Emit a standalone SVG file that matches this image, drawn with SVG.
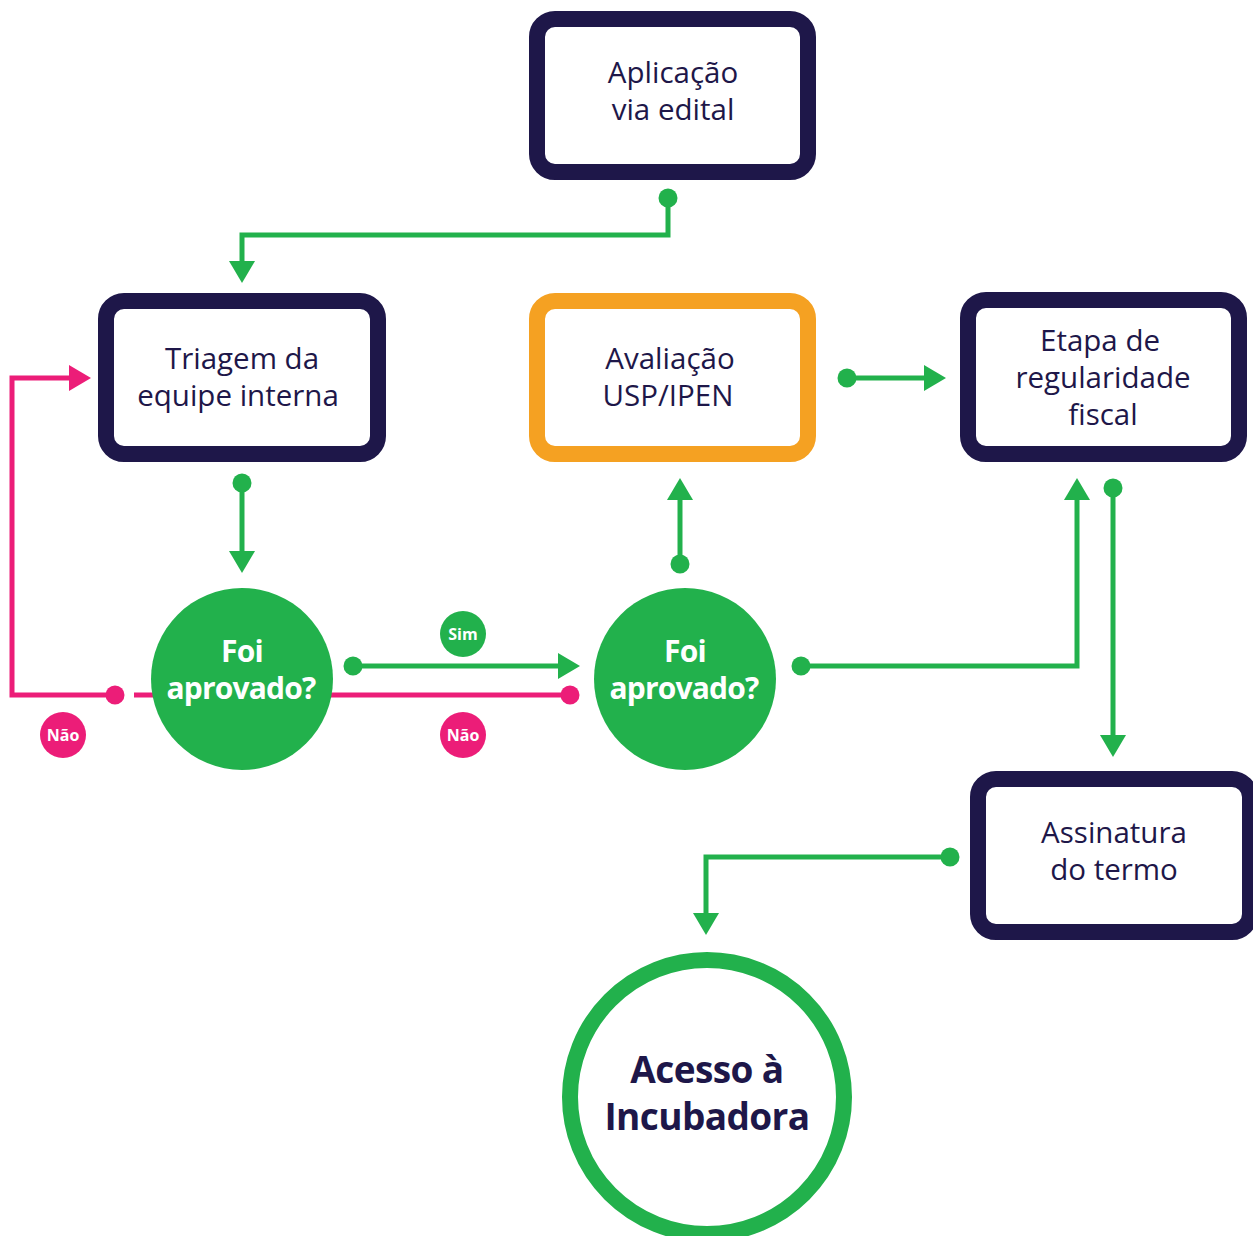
<svg xmlns="http://www.w3.org/2000/svg" width="1253" height="1236" viewBox="0 0 1253 1236">
<style>
.box{fill:#fff;stroke:#1e1749;stroke-width:16}
.orange{stroke:#f5a122}
.lbl{font-family:"Open Sans","Noto Sans",sans-serif;font-size:29.5px;fill:#1e1749;text-anchor:middle}
.q{font-family:"Open Sans","Noto Sans",sans-serif;font-weight:bold;font-size:30px;fill:#fff;text-anchor:middle;letter-spacing:-0.8px}
.big{font-family:"Open Sans","Noto Sans",sans-serif;font-weight:bold;font-size:37px;fill:#1e1749;text-anchor:middle;letter-spacing:-0.6px}
.badge{font-family:"Open Sans","Noto Sans",sans-serif;font-weight:bold;font-size:16px;fill:#fff;text-anchor:middle}
.g{fill:none;stroke:#22b14c;stroke-width:5}
.p{fill:none;stroke:#ec1d78;stroke-width:5}
</style>
<defs>
<marker id="ag" markerUnits="userSpaceOnUse" markerWidth="24" markerHeight="28" refX="0" refY="13" orient="auto" overflow="visible"><path d="M0,0 L22,13 L0,26 z" fill="#22b14c"/></marker>
<marker id="ap" markerUnits="userSpaceOnUse" markerWidth="24" markerHeight="28" refX="0" refY="13" orient="auto" overflow="visible"><path d="M0,0 L22,13 L0,26 z" fill="#ec1d78"/></marker>
<marker id="dg" markerUnits="userSpaceOnUse" markerWidth="20" markerHeight="20" refX="10" refY="10" overflow="visible"><circle cx="10" cy="10" r="9.5" fill="#22b14c"/></marker>
<marker id="dp" markerUnits="userSpaceOnUse" markerWidth="20" markerHeight="20" refX="10" refY="10" overflow="visible"><circle cx="10" cy="10" r="9.5" fill="#ec1d78"/></marker>
</defs>
<g id="connectors">
<path class="p" d="M134,695 H570" marker-end="url(#dp)"/>
<path class="p" d="M115,695 H12 V378 H69" marker-start="url(#dp)" marker-end="url(#ap)"/>
<path class="g" d="M668,198 V235 H242 V261" marker-start="url(#dg)" marker-end="url(#ag)"/>
<path class="g" d="M242,483 V551" marker-start="url(#dg)" marker-end="url(#ag)"/>
<path class="g" d="M353,666 H558" marker-start="url(#dg)" marker-end="url(#ag)"/>
<path class="g" d="M680,564 V500" marker-start="url(#dg)" marker-end="url(#ag)"/>
<path class="g" d="M847,378 H924" marker-start="url(#dg)" marker-end="url(#ag)"/>
<path class="g" d="M801,666 H1077 V500" marker-start="url(#dg)" marker-end="url(#ag)"/>
<path class="g" d="M1113,488 V735" marker-start="url(#dg)" marker-end="url(#ag)"/>
<path class="g" d="M950,857 H706 V913" marker-start="url(#dg)" marker-end="url(#ag)"/>
</g>
<g id="aplicacao">
<rect class="box" x="537" y="19" width="271" height="153" rx="18"/>
<text class="lbl" x="673" y="83">Aplicação</text>
<text class="lbl" x="673" y="120">via edital</text>
</g>
<g id="triagem">
<rect class="box" x="106" y="301" width="272" height="153" rx="18"/>
<text class="lbl" x="242" y="369">Triagem da</text>
<text class="lbl" x="238" y="406">equipe interna</text>
</g>
<g id="avaliacao">
<rect class="box orange" x="537" y="301" width="271" height="153" rx="18"/>
<text class="lbl" x="670" y="369">Avaliação</text>
<text class="lbl" x="668" y="406">USP/IPEN</text>
</g>
<g id="etapa">
<rect class="box" x="968" y="300" width="271" height="154" rx="18"/>
<text class="lbl" x="1100" y="351">Etapa de</text>
<text class="lbl" x="1103" y="388">regularidade</text>
<text class="lbl" x="1103" y="425">fiscal</text>
</g>
<g id="assinatura">
<rect class="box" x="978" y="779" width="272" height="153" rx="18"/>
<text class="lbl" x="1114" y="843">Assinatura</text>
<text class="lbl" x="1114" y="880">do termo</text>
</g>
<g id="foi1">
<circle cx="242" cy="679" r="91" fill="#22b14c"/>
<text class="q" x="242" y="662">Foi</text>
<text class="q" x="241" y="699">aprovado?</text>
</g>
<g id="foi2">
<circle cx="685" cy="679" r="91" fill="#22b14c"/>
<text class="q" x="685" y="662">Foi</text>
<text class="q" x="684" y="699">aprovado?</text>
</g>
<g id="sim">
<circle cx="463" cy="634" r="23" fill="#22b14c"/>
<text class="badge" x="463" y="640">Sim</text>
</g>
<g id="nao1">
<circle cx="63" cy="735" r="23" fill="#ec1d78"/>
<text class="badge" x="63" y="741">Não</text>
</g>
<g id="nao2">
<circle cx="463" cy="735" r="23" fill="#ec1d78"/>
<text class="badge" x="463" y="741">Não</text>
</g>
<g id="acesso">
<circle cx="707" cy="1097" r="137" fill="#fff" stroke="#22b14c" stroke-width="16"/>
<text class="big" x="707" y="1083">Acesso à</text>
<text class="big" x="707" y="1130">Incubadora</text>
</g>
</svg>
